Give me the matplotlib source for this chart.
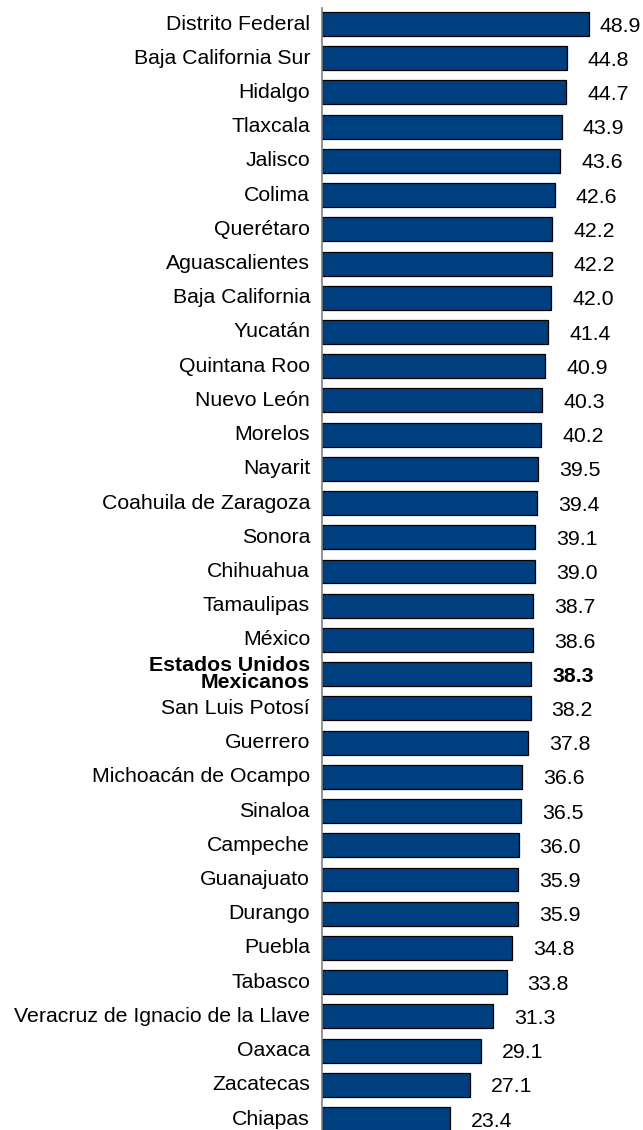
import matplotlib
matplotlib.use("Agg")
import matplotlib.pyplot as plt
import numpy as np

plt.rcParams["font.family"] = ["Liberation Sans", "DejaVu Sans"]

states = [
    "Distrito Federal", "Baja California Sur", "Hidalgo", "Tlaxcala", "Jalisco",
    "Colima", "Querétaro", "Aguascalientes", "Baja California", "Yucatán",
    "Quintana Roo", "Nuevo León", "Morelos", "Nayarit", "Coahuila de Zaragoza",
    "Sonora", "Chihuahua", "Tamaulipas", "México", "Estados Unidos\nMexicanos",
    "San Luis Potosí", "Guerrero", "Michoacán de Ocampo", "Sinaloa", "Campeche",
    "Guanajuato", "Durango", "Puebla", "Tabasco", "Veracruz de Ignacio de la Llave",
    "Oaxaca", "Zacatecas", "Chiapas",
]
values = [
    48.9, 44.8, 44.7, 43.9, 43.6, 42.6, 42.2, 42.2, 42.0, 41.4,
    40.9, 40.3, 40.2, 39.5, 39.4, 39.1, 39.0, 38.7, 38.6, 38.3,
    38.2, 37.8, 36.6, 36.5, 36.0, 35.9, 35.9, 34.8, 33.8, 31.3,
    29.1, 27.1, 23.4,
]
national = "Estados Unidos\nMexicanos"

W, H = 643, 1130
fig = plt.figure(figsize=(W / 100, H / 100), dpi=100)
ax_left = 322
ax_top = 8
ax = fig.add_axes([ax_left / W, 0, (W - ax_left) / W, (H - ax_top) / H])

y = np.arange(len(states))
ax.barh(y, values, height=0.70, color="#003F7F", edgecolor="black", linewidth=0.9)

scale = 5.46  # px per unit
ax.set_xlim(0, (W - ax_left) / scale)
pitch = 34.22
ax.set_ylim((H - 24) / pitch, -16 / pitch)

# labels are kept inside the picture: the widest one is pulled closer to its bar
max_label_x = (W - 44 - ax_left) / scale
for i, (s, v) in enumerate(zip(states, values)):
    bold = s == national
    ax.text(-12 / scale, i, s, ha="right", va="center", fontsize=15.3,
            fontweight="bold" if bold else "normal", linespacing=0.85)
    ax.text(min(v + 21 / scale, max_label_x), i + 0.06, f"{v:.1f}", ha="left",
            va="center", fontsize=15.3, fontweight="bold" if bold else "normal")

for side in ["top", "right", "bottom"]:
    ax.spines[side].set_visible(False)
ax.spines["left"].set_color("#808080")
ax.spines["left"].set_linewidth(1.2)
ax.set_xticks([])
ax.set_yticks([])

fig.savefig("out.png", dpi=100)
